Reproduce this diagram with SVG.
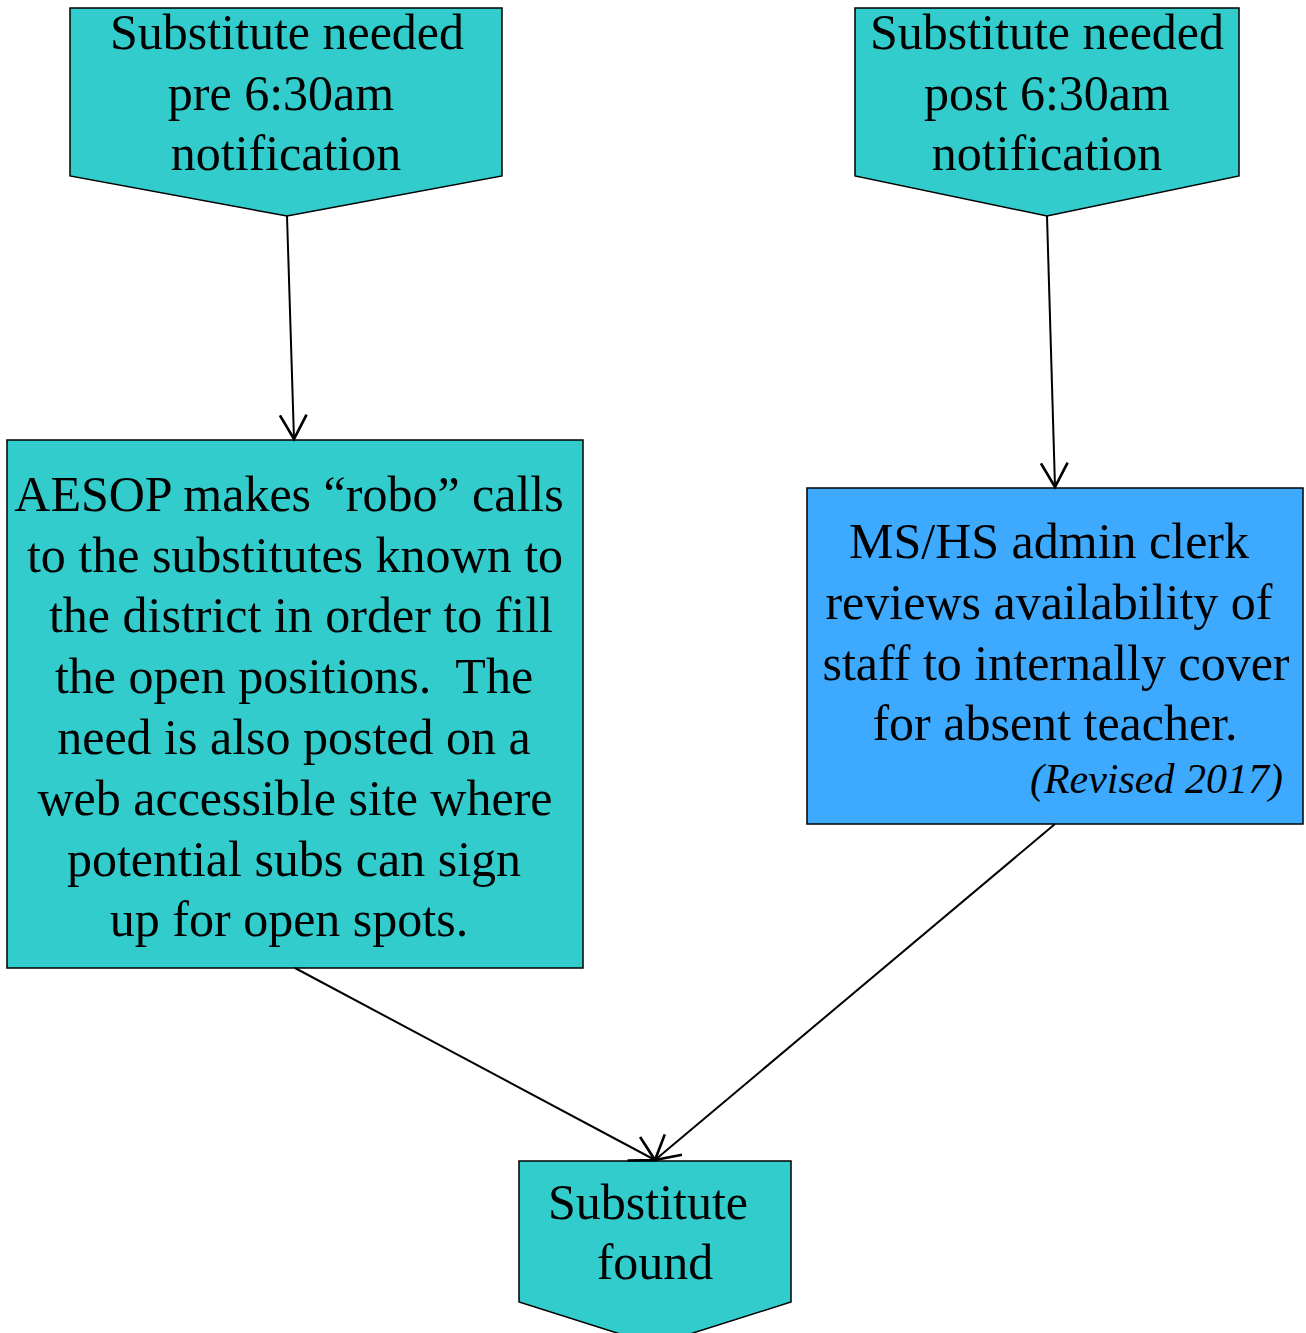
<svg xmlns="http://www.w3.org/2000/svg" width="1306" height="1333" viewBox="0 0 1306 1333">
<style>
.teal{fill:#33CCCC;stroke:#000;stroke-width:1.5}
.blue{fill:#3DAAFF;stroke:#000;stroke-width:1.5}
text{font-family:"Liberation Serif","Times New Roman",serif;font-size:50px;fill:#000;text-anchor:middle;white-space:pre}
.it{font-style:italic;font-size:42px;text-anchor:end}
.edge{stroke:#000;stroke-width:2;fill:none;marker-end:url(#arr)}
</style>
<defs>
<marker id="arr" markerUnits="userSpaceOnUse" markerWidth="40" markerHeight="40" viewBox="-25 -15 30 30" refX="0" refY="0" orient="auto">
<path d="M -18 -10 L 0 0 L -18 10" fill="none" stroke="#000" stroke-width="2"/>
</marker>
</defs>
<rect width="1306" height="1333" fill="#fff"/>
<g id="n1">
<polygon class="teal" points="70,8 502,8 502,176 287,216 70,176"/>
<text x="287" y="49">Substitute needed</text>
<text x="281" y="110">pre 6:30am</text>
<text x="286" y="170">notification</text>
</g>
<g id="n2">
<polygon class="teal" points="855,8 1239,8 1239,176 1047,216 855,176"/>
<text x="1047" y="49">Substitute needed</text>
<text x="1047" y="110">post 6:30am</text>
<text x="1047" y="170">notification</text>
</g>
<g id="n3">
<rect class="teal" x="7" y="440" width="576" height="528"/>
<text x="289" y="511">AESOP makes “robo” calls</text>
<text x="295" y="572">to the substitutes known to</text>
<text x="301" y="632">the district in order to fill</text>
<text x="294" y="693">the open positions.  The</text>
<text x="294" y="754">need is also posted on a</text>
<text x="295" y="815">web accessible site where</text>
<text x="294" y="876">potential subs can sign</text>
<text x="289" y="936">up for open spots.</text>
</g>
<g id="n4">
<rect class="blue" x="807" y="488" width="496" height="336"/>
<text x="1049" y="558">MS/HS admin clerk</text>
<text x="1049" y="619">reviews availability of</text>
<text x="1056" y="680">staff to internally cover</text>
<text x="1055" y="740">for absent teacher.</text>
<text class="it" x="1283" y="793">(Revised 2017)</text>
</g>
<g id="n5">
<polygon class="teal" points="519,1161 791,1161 791,1302 655,1345 519,1302"/>
<text x="648" y="1219">Substitute</text>
<text x="655" y="1279">found</text>
</g>
<g id="connectors">
<line class="edge" x1="287" y1="216" x2="294" y2="439"/>
<line class="edge" x1="1047" y1="216" x2="1055" y2="487"/>
<line class="edge" x1="295" y1="968" x2="655" y2="1160"/>
<line class="edge" x1="1055" y1="824" x2="655" y2="1160"/>
</g>
</svg>
